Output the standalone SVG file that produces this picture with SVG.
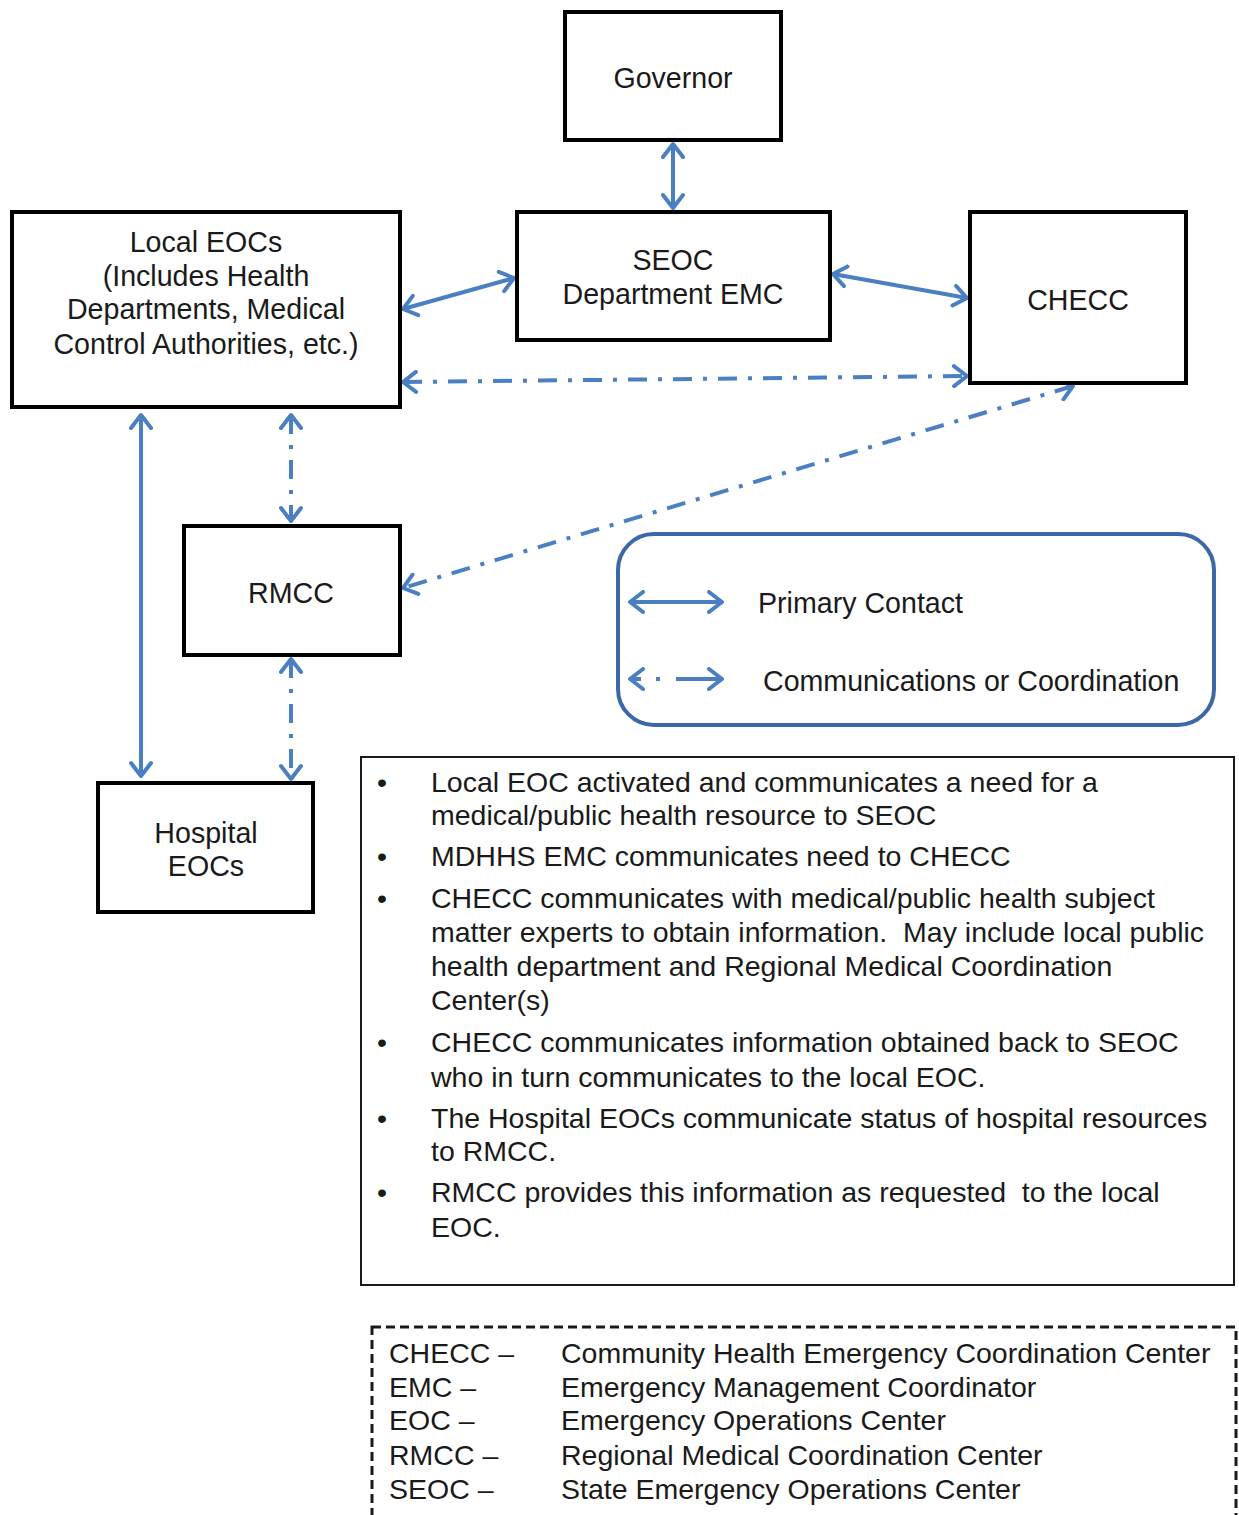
<svg xmlns="http://www.w3.org/2000/svg" width="1239" height="1515" viewBox="0 0 1239 1515">
  <style>
    .box { fill: #ffffff; stroke: #000000; stroke-width: 4; }
    .lbl { font-family: "Liberation Sans", Arial, sans-serif; font-size: 28.6px; fill: #1a1a1a; }
    .mid { text-anchor: middle; }
    .solid { stroke: #4a7fc1; stroke-width: 4; fill: none; marker-start: url(#chev); marker-end: url(#chev); }
    .dashdot { stroke: #4a7fc1; stroke-width: 4; fill: none; stroke-dasharray: 19 11 4 11; marker-start: url(#chev); marker-end: url(#chev); }
    .txt { font-family: "Liberation Sans", Arial, sans-serif; font-size: 28.5px; fill: #1a1a1a; white-space: pre; }
  </style>
  <defs>
    <marker id="chev" viewBox="-16 -12 20 24" markerWidth="20" markerHeight="24" refX="0" refY="0" orient="auto-start-reverse" markerUnits="userSpaceOnUse">
      <path d="M -13,-10 L 0,0 L -13,10" fill="none" stroke="#4a7fc1" stroke-width="4" stroke-linejoin="round" stroke-linecap="round"/>
    </marker>
  </defs>
  <rect width="1239" height="1515" fill="#ffffff"/>

  <!-- connectors -->
  <g id="connectors">
    <line class="solid" x1="673" y1="144" x2="673" y2="208"/>
    <line class="solid" x1="403" y1="309" x2="514" y2="278"/>
    <line class="solid" x1="833" y1="274" x2="967" y2="298"/>
    <line class="solid" x1="141" y1="415" x2="141" y2="776"/>
    <line class="dashdot" x1="403" y1="382" x2="967" y2="376"/>
    <line class="dashdot" x1="1073" y1="386" x2="403" y2="588"/>
    <line class="dashdot" x1="291" y1="415" x2="291" y2="521"/>
    <line class="dashdot" x1="291" y1="659" x2="291" y2="779"/>
  </g>

  <!-- nodes -->
  <g id="governor">
    <rect class="box" x="565" y="12" width="216" height="128"/>
    <text class="lbl mid" x="673" y="88">Governor</text>
  </g>
  <g id="seoc">
    <rect class="box" x="517" y="212" width="313" height="128"/>
    <text class="lbl mid" x="673" y="270">SEOC</text>
    <text class="lbl mid" x="673" y="304">Department EMC</text>
  </g>
  <g id="checc">
    <rect class="box" x="970" y="212" width="216" height="171"/>
    <text class="lbl mid" x="1078" y="310">CHECC</text>
  </g>
  <g id="local-eocs">
    <rect class="box" x="12" y="212" width="388" height="195"/>
    <text class="lbl mid" x="206" y="252">Local EOCs</text>
    <text class="lbl mid" x="206" y="286">(Includes Health</text>
    <text class="lbl mid" x="206" y="319">Departments, Medical</text>
    <text class="lbl mid" x="206" y="354">Control Authorities, etc.)</text>
  </g>
  <g id="rmcc">
    <rect class="box" x="184" y="526" width="216" height="129"/>
    <text class="lbl mid" x="291" y="603">RMCC</text>
  </g>
  <g id="hospital-eocs">
    <rect class="box" x="98" y="783" width="215" height="129"/>
    <text class="lbl mid" x="206" y="843">Hospital</text>
    <text class="lbl mid" x="206" y="876">EOCs</text>
  </g>

  <!-- legend -->
  <g id="legend">
    <rect x="618" y="534" width="596" height="191" rx="36" ry="36" fill="#ffffff" stroke="#3d68a8" stroke-width="4"/>
    <line class="solid" x1="630" y1="602" x2="722" y2="602"/>
    <line stroke="#4a7fc1" stroke-width="4" x1="630" y1="679" x2="641" y2="679" marker-start="url(#chev)"/>
    <line stroke="#4a7fc1" stroke-width="4" x1="656" y1="679" x2="660" y2="679"/>
    <line stroke="#4a7fc1" stroke-width="4" x1="676" y1="679" x2="722" y2="679" marker-end="url(#chev)"/>
    <text class="lbl" x="758" y="613">Primary Contact</text>
    <text class="lbl" x="763" y="691">Communications or Coordination</text>
  </g>

  <!-- process notes -->
  <g id="notes">
    <rect x="361" y="757" width="873" height="528" fill="#ffffff" stroke="#1a1a1a" stroke-width="2"/>
    <g class="txt">
      <text x="377" y="792">•</text>
      <text x="431" y="792">Local EOC activated and communicates a need for a</text>
      <text x="431" y="825">medical/public health resource to SEOC</text>
      <text x="377" y="866">•</text>
      <text x="431" y="866">MDHHS EMC communicates need to CHECC</text>
      <text x="377" y="908">•</text>
      <text x="431" y="908">CHECC communicates with medical/public health subject</text>
      <text x="431" y="942" xml:space="preserve">matter experts to obtain information.  May include local public</text>
      <text x="431" y="976">health department and Regional Medical Coordination</text>
      <text x="431" y="1010">Center(s)</text>
      <text x="377" y="1052">•</text>
      <text x="431" y="1052">CHECC communicates information obtained back to SEOC</text>
      <text x="431" y="1087">who in turn communicates to the local EOC.</text>
      <text x="377" y="1128">•</text>
      <text x="431" y="1128">The Hospital EOCs communicate status of hospital resources</text>
      <text x="431" y="1161">to RMCC.</text>
      <text x="377" y="1202">•</text>
      <text x="431" y="1202" xml:space="preserve">RMCC provides this information as requested  to the local</text>
      <text x="431" y="1237">EOC.</text>
    </g>
  </g>

  <!-- abbreviations -->
  <g id="abbreviations">
    <rect x="372" y="1327" width="864" height="190" fill="#ffffff" stroke="#1a1a1a" stroke-width="3" stroke-dasharray="9 5"/>
    <g class="txt">
      <text x="389" y="1363">CHECC –</text>
      <text x="561" y="1363">Community Health Emergency Coordination Center</text>
      <text x="389" y="1397">EMC –</text>
      <text x="561" y="1397">Emergency Management Coordinator</text>
      <text x="389" y="1430">EOC –</text>
      <text x="561" y="1430">Emergency Operations Center</text>
      <text x="389" y="1465">RMCC –</text>
      <text x="561" y="1465">Regional Medical Coordination Center</text>
      <text x="389" y="1499">SEOC –</text>
      <text x="561" y="1499">State Emergency Operations Center</text>
    </g>
  </g>
</svg>
